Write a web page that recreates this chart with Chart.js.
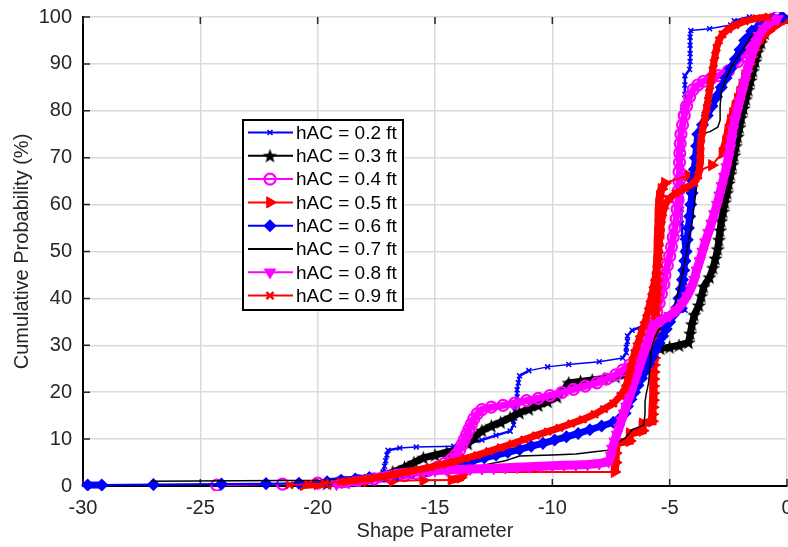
<!DOCTYPE html>
<html><head><meta charset="utf-8">
<script src="https://cdn.jsdelivr.net/npm/chart.js@4.4.0/dist/chart.umd.min.js"></script>
<style>html,body{margin:0;padding:0;background:#fff;overflow:hidden}</style>
</head><body>
<canvas id="c" width="788" height="547" style="width:788px;height:547px;display:block"></canvas>
<script>
// ---- data ----
const seriesLabels = ['hAC = 0.2 ft','hAC = 0.3 ft','hAC = 0.4 ft','hAC = 0.5 ft','hAC = 0.6 ft','hAC = 0.7 ft','hAC = 0.8 ft','hAC = 0.9 ft'];
const xTicks = [-30,-25,-20,-15,-10,-5,0];
const yTicks = [0,10,20,30,40,50,60,70,80,90,100];

const hac02 = [[-18.6,0.3],[-17.9,1.0],[-17.3,1.8],[-17.2,3.0],[-17.15,4.2],[-17.1,5.4],[-17.05,6.6],[-17.0,7.6],[-16.5,8.1],[-15.8,8.3],[-14.2,8.5],[-13.6,9.0],[-13.0,9.8],[-12.4,10.8],[-11.8,11.7],[-11.65,13.0],[-11.6,14.5],[-11.6,16.0],[-11.55,17.5],[-11.5,19.0],[-11.5,20.5],[-11.45,22.0],[-11.4,23.5],[-11.0,24.6],[-10.2,25.4],[-9.3,25.9],[-8.0,26.5],[-7.0,27.3],[-6.85,28.4],[-6.85,29.6],[-6.8,30.8],[-6.8,32.0],[-6.6,33.2],[-6.1,34.2],[-5.5,35.3],[-4.9,36.3],[-4.35,37.5],[-4.35,39.5],[-4.35,41.5],[-4.35,43.5],[-4.35,45.5],[-4.35,47.5],[-4.4,50],[-4.45,53],[-4.5,56],[-4.5,59],[-4.5,62],[-4.5,65],[-4.5,68],[-4.5,71],[-4.45,74],[-4.45,77],[-4.45,80],[-4.35,81.5],[-4.35,83.5],[-4.35,85.5],[-4.35,87.5],[-4.15,88.8],[-4.13,90.5],[-4.13,92.2],[-4.13,94],[-4.13,95.7],[-4.1,97.1],[-3.3,97.5],[-2.4,98.3],[-2.25,99.2],[-1.6,100]];

const hac03 = [[-19.6,0.5],[-18.8,0.8],[-18.0,1.2],[-17.3,2.0],[-16.8,3.0],[-16.3,4.0],[-15.9,5.0],[-15.5,6.0],[-15.0,6.6],[-14.5,7.2],[-14.0,7.8],[-13.6,9.0],[-13.3,10.5],[-13.0,11.8],[-12.6,12.8],[-12.2,13.6],[-11.8,14.6],[-11.4,15.6],[-11.0,16.4],[-10.6,17.2],[-10.2,18.0],[-9.8,19.0],[-9.5,20.5],[-9.3,22.0],[-8.8,22.3],[-8.3,22.6],[-7.8,22.9],[-7.3,23.3],[-6.9,24.0],[-6.6,25.2],[-6.3,26.5],[-6.0,27.8],[-5.7,28.8],[-5.4,29.3],[-5.0,29.6],[-4.6,30.0],[-4.2,30.6],[-4.12,32.5],[-4.05,34.5],[-3.95,36.5],[-3.75,38.5],[-3.65,40.5],[-3.55,42.5],[-3.3,44.5],[-3.15,46.5],[-3.05,48.5],[-2.95,50.5],[-2.9,52.5],[-2.85,54.5],[-2.8,56.5],[-2.72,58.5],[-2.65,60.5],[-2.55,62.5],[-2.48,64.5],[-2.4,66.5],[-2.32,68.5],[-2.25,70.5],[-2.18,72.5],[-2.1,74.5],[-2.02,76.5],[-1.95,78.5],[-1.85,80.5],[-1.75,82.5],[-1.65,84.5],[-1.55,86.5],[-1.45,88.5],[-1.35,90.5],[-1.25,92.5],[-1.1,94.5],[-0.95,96.5],[-0.7,98.3],[-0.3,99.6]];

const hac04 = [[-24.3,0.2],[-21.5,0.4],[-20.0,0.6],[-19.0,0.9],[-18.3,1.2],[-17.6,1.5],[-16.9,1.8],[-16.3,2.2],[-15.8,2.7],[-15.3,3.3],[-14.9,4.0],[-14.6,4.8],[-14.3,5.7],[-14.1,6.7],[-13.95,7.7],[-13.85,8.8],[-13.75,9.9],[-13.65,11.0],[-13.55,12.1],[-13.45,13.2],[-13.35,14.3],[-13.2,15.4],[-13.0,16.3],[-12.6,16.8],[-12.1,17.2],[-11.6,17.7],[-11.1,18.2],[-10.6,18.7],[-10.1,19.3],[-9.6,19.9],[-9.1,20.6],[-8.6,21.3],[-8.1,22.0],[-7.7,22.8],[-7.3,23.7],[-7.0,24.7],[-6.7,25.8],[-6.4,27.0],[-6.2,28.5],[-6.0,30.0],[-5.85,31.5],[-5.75,33.0],[-5.65,35.0],[-5.55,37.0],[-5.45,39.0],[-5.35,41.0],[-5.25,43.0],[-5.2,45.0],[-5.1,47.0],[-5.0,49.0],[-4.92,51.0],[-4.85,53.0],[-4.78,55.0],[-4.72,57.0],[-4.68,59.0],[-4.64,61.0],[-4.62,63.0],[-4.6,65.0],[-4.6,67.0],[-4.58,69.0],[-4.57,71.0],[-4.55,73.0],[-4.52,75.0],[-4.45,77.0],[-4.38,79.0],[-4.28,81.0],[-4.15,83.0],[-4.0,84.5],[-3.8,85.5],[-3.55,86.3],[-3.25,86.8],[-2.9,87.5],[-2.5,88.5],[-2.1,90.5],[-1.8,92.5],[-1.5,94.5],[-1.3,96.5],[-1.1,98.0],[-0.8,99.3],[-0.4,100]];

const hac05 = [[-20.6,0.2],[-20.0,0.4],[-19.4,0.6],[-18.7,0.8],[-17.9,1.0],[-16.8,1.1],[-15.5,1.2],[-14.3,1.3],[-13.9,1.8],[-13.85,2.4],[-13.8,3.0],[-7.35,3.0],[-7.3,5.0],[-7.3,7.0],[-7.25,9.2],[-6.7,9.6],[-6.7,11.2],[-6.15,11.8],[-6.15,13.3],[-5.75,13.8],[-5.74,15.3],[-5.72,16.8],[-5.71,18.3],[-5.7,19.8],[-5.7,21.3],[-5.69,22.8],[-5.68,24.3],[-5.67,25.8],[-5.66,27.3],[-5.65,28.8],[-5.64,30.3],[-5.63,31.8],[-5.62,33.3],[-5.61,34.8],[-5.6,36.3],[-5.6,37.8],[-5.59,39.3],[-5.58,40.8],[-5.57,42.3],[-5.56,43.8],[-5.55,45.3],[-5.54,46.8],[-5.53,48.3],[-5.52,49.8],[-5.51,51.3],[-5.5,52.8],[-5.49,54.3],[-5.48,55.8],[-5.47,57.3],[-5.46,58.8],[-5.45,60.3],[-5.42,61.8],[-5.35,63.3],[-5.2,64.6],[-4.2,66.2],[-3.2,68.4],[-2.75,71.0],[-2.6,73.5],[-2.5,76.0],[-2.4,78.0],[-2.3,79.5],[-2.2,81.0],[-2.1,82.5],[-2.0,84.0],[-1.9,85.5],[-1.8,87.0],[-1.7,88.5],[-1.6,90.0],[-1.5,91.5],[-1.4,93.0],[-1.25,94.5],[-1.05,95.8],[-0.8,97.0],[-0.55,98.0],[-0.25,99.0],[0,99.6]];

const hac06 = [[-29.8,0.2],[-29.2,0.2],[-27.0,0.3],[-24.1,0.4],[-22.2,0.5],[-20.8,0.6],[-19.6,0.9],[-19.0,1.2],[-18.4,1.5],[-17.8,1.8],[-17.2,2.1],[-16.6,2.4],[-16.0,2.8],[-15.4,3.2],[-14.9,3.7],[-14.4,4.2],[-13.9,4.8],[-13.4,5.4],[-12.9,6.0],[-12.4,6.6],[-11.9,7.2],[-11.4,7.8],[-10.9,8.5],[-10.4,9.1],[-9.9,9.8],[-9.4,10.5],[-8.9,11.2],[-8.4,12.0],[-7.9,12.8],[-7.4,13.6],[-7.1,14.5],[-6.9,15.5],[-6.8,17.0],[-6.65,18.5],[-6.5,20.0],[-6.35,21.5],[-6.2,23.0],[-6.05,24.5],[-5.9,26.0],[-5.75,27.5],[-5.6,29.0],[-5.45,30.5],[-5.3,32.0],[-5.15,33.5],[-5.0,35.0],[-4.85,36.5],[-4.7,38.0],[-4.6,40.0],[-4.5,42.0],[-4.45,44.0],[-4.4,46.0],[-4.35,48.0],[-4.3,50.0],[-4.25,52.5],[-4.2,55.0],[-4.15,57.5],[-4.1,60.0],[-4.05,62.5],[-4.0,65.0],[-3.95,67.5],[-3.9,70.0],[-3.85,72.5],[-3.8,75.0],[-3.6,77.0],[-3.4,79.0],[-3.2,81.0],[-3.0,83.0],[-2.8,85.0],[-2.6,87.0],[-2.4,89.0],[-2.2,91.0],[-2.0,93.0],[-1.8,95.0],[-1.5,97.0],[-1.1,98.5],[-0.6,99.5],[-0.2,100]];

const hac07 = [[-27.1,1.0],[-19.6,1.2],[-18.0,1.5],[-16.5,2.0],[-15.0,2.6],[-14.0,3.4],[-13.0,4.4],[-12.0,5.4],[-11.4,6.4],[-10.0,6.6],[-9.0,6.8],[-8.2,7.3],[-7.5,7.7],[-7.35,8.8],[-7.1,9.6],[-6.9,10.2],[-6.6,12.0],[-6.3,12.6],[-6.1,13.0],[-6.05,15.5],[-6.05,18.0],[-6.0,19.6],[-5.9,22.0],[-5.85,25.0],[-5.8,28.0],[-5.7,31.0],[-5.5,33.0],[-5.2,35.0],[-4.9,37.0],[-4.7,40.0],[-4.5,44.0],[-4.35,48.0],[-4.2,52.0],[-4.05,56.0],[-3.95,60.0],[-3.85,64.0],[-3.75,68.0],[-3.7,72.0],[-3.65,75.2],[-3.3,75.5],[-2.95,76.5],[-2.85,78.0],[-2.85,81.0],[-2.8,84.0],[-2.6,87.0],[-2.3,90.0],[-1.9,93.0],[-1.5,96.0],[-1.0,98.5],[-0.4,100]];

const hac08 = [[-19.2,0.4],[-18.7,0.8],[-18.2,1.2],[-17.7,1.6],[-17.3,2.0],[-16.9,2.4],[-16.5,2.8],[-16.0,3.0],[-15.5,3.2],[-15.0,3.3],[-14.5,3.4],[-14.0,3.5],[-13.5,3.6],[-13.0,3.7],[-12.5,3.8],[-12.0,3.9],[-11.5,4.0],[-11.0,4.1],[-10.5,4.2],[-10.0,4.3],[-9.5,4.4],[-9.0,4.5],[-8.5,4.6],[-8.0,4.8],[-7.6,5.2],[-7.5,6.5],[-7.45,8.0],[-7.35,9.5],[-7.25,11.0],[-7.15,12.5],[-7.05,14.0],[-6.95,15.5],[-6.85,17.0],[-6.75,18.5],[-6.65,20.0],[-6.55,21.5],[-6.45,23.0],[-6.35,24.5],[-6.25,26.0],[-6.15,27.5],[-6.05,29.0],[-5.95,30.5],[-5.85,32.0],[-5.75,33.5],[-5.6,34.5],[-5.35,35.3],[-5.0,36.3],[-4.7,37.5],[-4.45,39.0],[-4.25,40.5],[-4.1,42.0],[-3.95,44.0],[-3.85,46.0],[-3.72,48.0],[-3.6,50.0],[-3.48,52.0],[-3.35,54.0],[-3.22,56.0],[-3.1,58.0],[-2.98,60.0],[-2.88,62.0],[-2.78,64.0],[-2.68,66.0],[-2.58,68.0],[-2.5,70.0],[-2.42,72.0],[-2.36,74.0],[-2.3,76.0],[-2.22,78.0],[-2.12,80.0],[-2.02,82.0],[-1.92,84.0],[-1.82,86.0],[-1.72,88.0],[-1.62,90.0],[-1.5,92.0],[-1.35,94.0],[-1.2,96.0],[-1.0,97.5],[-0.75,98.8],[-0.4,99.6]];

const hac09 = [[-21.2,0.2],[-20.4,0.4],[-19.7,0.6],[-19.0,0.9],[-18.4,1.2],[-17.8,1.6],[-17.2,2.0],[-16.7,2.5],[-16.2,3.0],[-15.7,3.5],[-15.2,4.0],[-14.7,4.6],[-14.2,5.2],[-13.7,5.9],[-13.2,6.6],[-12.7,7.4],[-12.2,8.2],[-11.7,9.0],[-11.2,9.9],[-10.7,10.8],[-10.2,11.6],[-9.7,12.4],[-9.2,13.3],[-8.7,14.2],[-8.2,15.3],[-7.8,16.4],[-7.4,17.6],[-7.1,19.2],[-6.9,20.8],[-6.8,22.3],[-6.72,23.8],[-6.65,25.3],[-6.58,26.8],[-6.5,28.3],[-6.4,29.8],[-6.3,31.3],[-6.2,32.8],[-6.1,34.3],[-6.0,35.8],[-5.92,37.3],[-5.85,38.8],[-5.78,40.3],[-5.72,41.8],[-5.66,43.3],[-5.6,44.8],[-5.56,46.3],[-5.52,47.8],[-5.49,49.3],[-5.46,50.8],[-5.43,52.3],[-5.4,53.8],[-5.37,55.3],[-5.33,56.8],[-5.28,58.3],[-5.2,59.8],[-5.05,61.2],[-4.75,62.4],[-4.35,63.5],[-3.95,64.6],[-3.78,66.2],[-3.73,67.8],[-3.7,69.4],[-3.69,71.0],[-3.68,72.6],[-3.65,74.2],[-3.6,75.8],[-3.54,77.4],[-3.48,79.0],[-3.42,80.6],[-3.37,82.2],[-3.32,83.8],[-3.27,85.4],[-3.22,87.0],[-3.17,88.6],[-3.12,90.2],[-3.06,91.8],[-3.0,93.4],[-2.9,95.0],[-2.75,96.3],[-2.5,97.4],[-2.2,98.3],[-1.8,99.1],[-1.3,99.7],[-0.8,100]];

// ---- styling ----
function makeStar(color, r) {
  const s = Math.ceil(r * 2 + 2);
  const c = document.createElement('canvas'); c.width = s; c.height = s;
  const g = c.getContext('2d'); g.fillStyle = color; g.beginPath();
  for (let k = 0; k < 10; k++) {
    const rr = (k % 2) ? r * 0.42 : r;
    const a = -Math.PI / 2 + k * Math.PI / 5;
    g.lineTo(s / 2 + rr * Math.cos(a), s / 2 + rr * Math.sin(a) + r * 0.08);
  }
  g.closePath(); g.fill();
  return c;
}
const starImg = makeStar('#000000', 7.5);
const toXY = arr => arr.map(p => ({x: p[0], y: p[1]}));

// thick: line width used where markers are packed densely (short segments)
const styles = [
  {c:'#0000ff', bw:1.5, thick:2.5, ps:'crossRot', pr:3.5, pbw:1.5, bg:'#0000ff', rot:0},
  {c:'#000000', bw:2, thick:7, ps:starImg, pr:7, pbw:1, bg:'#000000', rot:0},
  {c:'#ff00ff', bw:2, thick:7, ps:'circle', pr:5.5, pbw:2.2, bg:'rgba(255,255,255,0)', rot:0},
  {c:'#ff0000', bw:2, thick:8, ps:'triangle', pr:6.5, pbw:1, bg:'#ff0000', rot:90},
  {c:'#0000ff', bw:2, thick:7, ps:'rectRot', pr:5.5, pbw:1.5, bg:'#0000ff', rot:0},
  {c:'#000000', bw:1.5, thick:1.5, ps:false, pr:0, pbw:0, bg:'#000000', rot:0},
  {c:'#ff00ff', bw:2, thick:9, ps:'triangle', pr:6.5, pbw:1, bg:'#ff00ff', rot:180},
  {c:'#ff0000', bw:2, thick:7, ps:'crossRot', pr:5, pbw:2.5, bg:'#ff0000', rot:0}
];
const seriesData = [hac02, hac03, hac04, hac05, hac06, hac07, hac08, hac09];

const datasets = seriesData.map((d, i) => ({
  label: seriesLabels[i],
  data: toXY(d),
  showLine: true,
  tension: 0,
  borderColor: styles[i].c,
  borderWidth: styles[i].bw,
  segment: {
    borderWidth: ctx => (Math.hypot(ctx.p1.x - ctx.p0.x, ctx.p1.y - ctx.p0.y) < 16 ? styles[i].thick : styles[i].bw)
  },
  pointStyle: styles[i].ps,
  pointRadius: styles[i].pr,
  pointBorderWidth: styles[i].pbw,
  pointBorderColor: styles[i].c,
  pointBackgroundColor: styles[i].bg,
  pointRotation: styles[i].rot,
  pointHoverRadius: styles[i].pr,
  order: 8 - i,
  clip: 5
}));

const FONT = '"Liberation Sans", Arial, Helvetica, sans-serif';
const TXT = '#262626';

const boxLegend = {
  id: 'boxLegend',
  afterDatasetsDraw(chart) {
    const ctx = chart.ctx;
    ctx.save();
    const bx = 243, by = 120, bw = 160, bh = 190;
    ctx.fillStyle = '#ffffff'; ctx.fillRect(bx, by, bw, bh);
    ctx.lineWidth = 2; ctx.strokeStyle = '#000000'; ctx.strokeRect(bx, by, bw, bh);
    chart.data.datasets.forEach((ds, i) => {
      const y = by + 12.5 + i * 23.3;
      ctx.strokeStyle = ds.borderColor; ctx.lineWidth = 2;
      ctx.beginPath(); ctx.moveTo(bx + 5, y); ctx.lineTo(bx + 50, y); ctx.stroke();
      if (ds.pointRadius > 0) {
        ctx.fillStyle = ds.pointBackgroundColor; ctx.strokeStyle = ds.pointBorderColor; ctx.lineWidth = ds.pointBorderWidth;
        Chart.helpers.drawPoint(ctx, {pointStyle: ds.pointStyle, rotation: ds.pointRotation, radius: ds.pointRadius, borderWidth: ds.pointBorderWidth}, bx + 27, y);
      }
      ctx.fillStyle = '#000000'; ctx.font = '19px ' + FONT; ctx.textBaseline = 'middle'; ctx.textAlign = 'left';
      ctx.fillText(ds.label, bx + 53, y + 1);
    });
    ctx.restore();
  }
};

const innerTicks = {
  id: 'innerTicks',
  beforeDatasetsDraw(chart) {
    const {ctx, chartArea: a, scales: {x, y}} = chart;
    ctx.save(); ctx.strokeStyle = TXT; ctx.lineWidth = 1.5; ctx.beginPath();
    xTicks.forEach(v => { const px = x.getPixelForValue(v); ctx.moveTo(px, a.bottom); ctx.lineTo(px, a.bottom - 7); ctx.moveTo(px, a.top); ctx.lineTo(px, a.top + 7); });
    yTicks.forEach(v => { const py = y.getPixelForValue(v); ctx.moveTo(a.left, py); ctx.lineTo(a.left + 7, py); });
    ctx.stroke(); ctx.restore();
  }
};

new Chart(document.getElementById('c'), {
  type: 'scatter',
  data: { datasets },
  plugins: [innerTicks, boxLegend],
  options: {
    responsive: false, animation: false, devicePixelRatio: 1,
    layout: { autoPadding: false, padding: { top: 17, right: 1, left: 0, bottom: 0 } },
    plugins: { legend: { display: false }, tooltip: { enabled: false } },
    scales: {
      x: {
        type: 'linear', min: -30, max: 0,
        afterBuildTicks: s => { s.ticks = xTicks.map(v => ({value: v})); },
        afterFit: s => { s.height = 61; s.paddingLeft = 0; s.paddingRight = 0; },
        ticks: { font: { family: FONT, size: 20 }, color: TXT, padding: 10, maxRotation: 0 },
        grid: { color: '#dadada', lineWidth: 1.5, drawTicks: false },
        border: { color: '#000000', width: 2 },
        title: { display: true, text: 'Shape Parameter', font: { family: FONT, size: 20 }, color: TXT, padding: { top: 0, bottom: 4 } }
      },
      y: {
        type: 'linear', min: 0, max: 100,
        afterBuildTicks: s => { s.ticks = yTicks.map(v => ({value: v})); },
        afterFit: s => { s.width = 83; s.paddingTop = 0; s.paddingBottom = 0; },
        ticks: { font: { family: FONT, size: 20 }, color: TXT, padding: 11 },
        grid: { color: '#dadada', lineWidth: 1.5, drawTicks: false },
        border: { color: '#000000', width: 2 },
        title: { display: true, text: 'Cumulative Probability (%)', font: { family: FONT, size: 20 }, color: TXT, padding: { top: 10, bottom: 0 } }
      }
    }
  }
});
</script>
</body></html>
